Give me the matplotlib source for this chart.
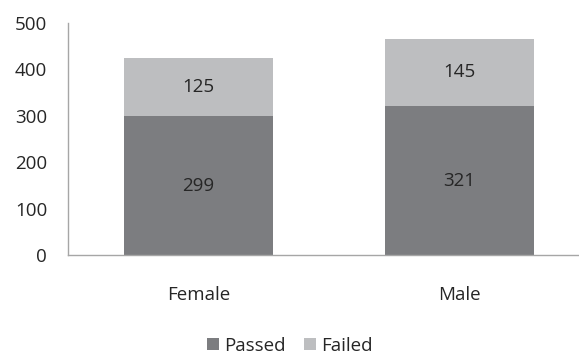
import numpy as np
import matplotlib.pyplot as plt

categories = ['Female', 'Male']
passed = [299, 321]
failed = [125, 145]

plt.rcParams['font.family'] = ['Open Sans', 'DejaVu Sans']

fig = plt.figure(figsize=(5.79, 3.55), dpi=100)
ax = fig.add_axes([68 / 579, 100 / 355, 522 / 579, 232 / 355])

x = np.arange(len(categories))
b1 = ax.bar(x, passed, width=0.57, color='#7c7d80', label='Passed')
b2 = ax.bar(x, failed, width=0.57, bottom=passed, color='#bdbec0', label='Failed')

for bars, vals, base in [(b1, passed, [0, 0]), (b2, failed, passed)]:
    for bar, v, b in zip(bars, vals, base):
        ax.text(bar.get_x() + bar.get_width() / 2, b + v / 2, str(v),
                ha='center', va='center', fontsize=13.5, color='#262626')

ax.set_xlim(-0.5, 1.5)
ax.set_ylim(0, 500)
ax.set_yticks(range(0, 501, 100))
ax.set_xticks(x)
ax.set_xticklabels(categories)
ax.tick_params(axis='both', length=0, labelsize=13.5, colors='#262626')
ax.tick_params(axis='x', pad=22)
ax.tick_params(axis='y', pad=15)
for s in ['top', 'right']:
    ax.spines[s].set_visible(False)
for s in ['left', 'bottom']:
    ax.spines[s].set_color('#a6a6a6')
    ax.spines[s].set_linewidth(1)

fig.legend(loc='center', bbox_to_anchor=(290 / 579, 1 - 346 / 355), ncol=2,
           frameon=False, fontsize=13.5, handlelength=0.6, handleheight=0.6,
           handletextpad=0.3, columnspacing=1.0, labelcolor='#262626')

fig.savefig('out.png', dpi=100)
